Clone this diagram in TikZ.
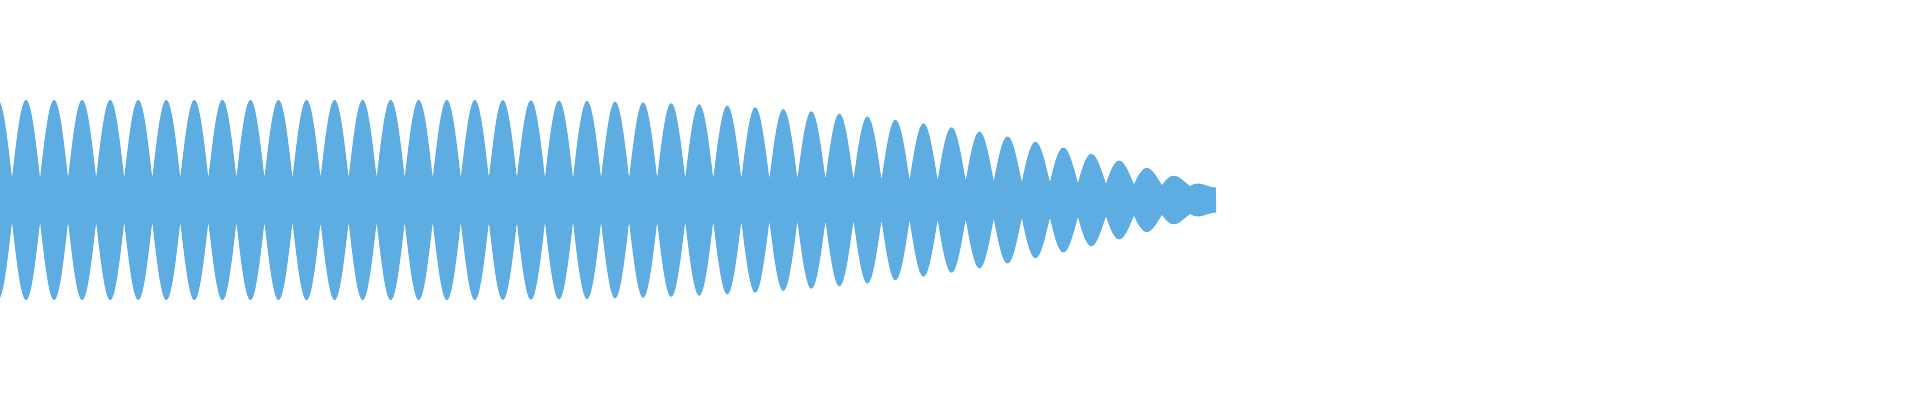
\documentclass[tikz,border=0pt]{standalone}
\definecolor{wave}{HTML}{5DACE2}
\begin{document}
\begin{tikzpicture}[x=1pt,y=-1pt,
  declare function={
    amp(\t)=100-85*(max(\t-400,0)/805)^3;
    pin(\t)=12+0.1*amp(\t);
    env(\t)=pin(\t)+(amp(\t)-pin(\t))*abs(sin(6.41711*(\t-12)));
  }]
\useasboundingbox (0,0) rectangle (1920,400);
\fill[wave] plot[domain=0:1216,samples=2400,variable=\t] (\t,{200-env(\t)})
  -- plot[domain=1216:0,samples=2400,variable=\t] (\t,{200+env(\t)}) -- cycle;
\end{tikzpicture}
\end{document}
